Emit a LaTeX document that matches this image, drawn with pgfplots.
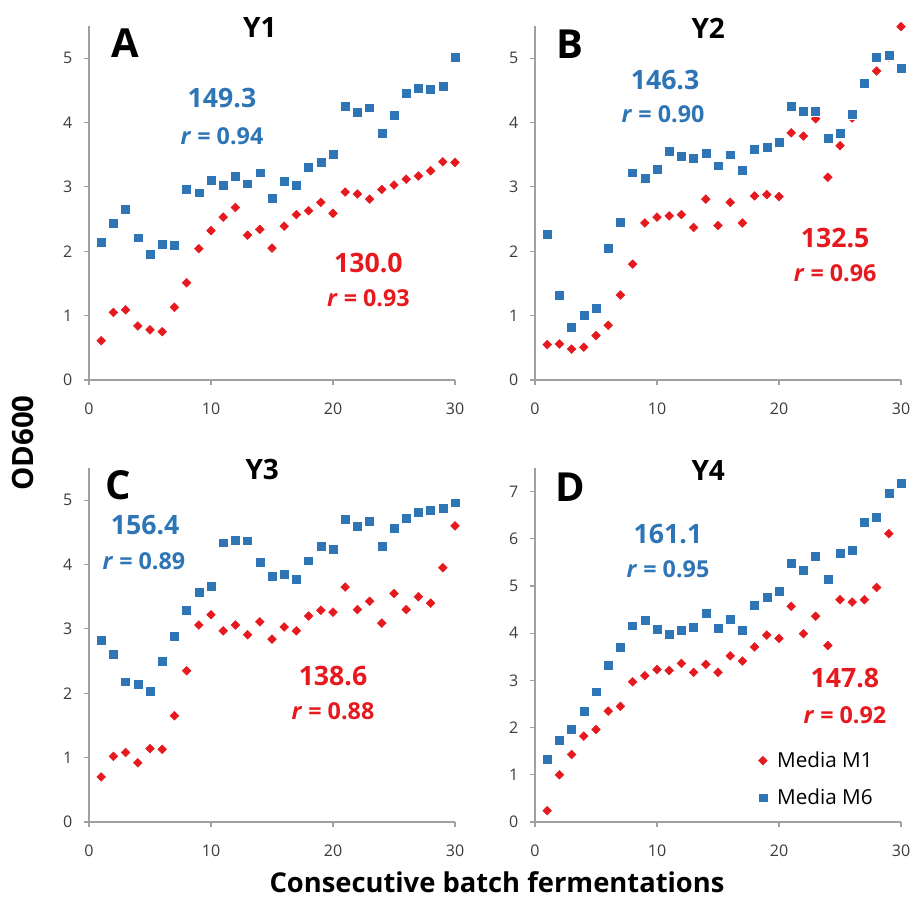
\documentclass[border=0pt]{standalone}
\usepackage{fontspec}
\setmainfont{Open Sans}
\usepackage{pgfplots}
\usepackage{pgfplotstable}
\pgfplotsset{compat=1.18}
\definecolor{myblue}{RGB}{46,117,182}
\definecolor{myred}{RGB}{230,25,30}
\definecolor{axisgray}{RGB}{160,160,160}
\definecolor{tickgray}{RGB}{60,60,60}

\pgfplotstableread{
x a1 a6
1 0.61 2.14
2 1.05 2.43
3 1.09 2.65
4 0.84 2.21
5 0.78 1.95
6 0.75 2.11
7 1.13 2.10
8 1.51 2.96
9 2.04 2.91
10 2.32 3.10
11 2.53 3.03
12 2.68 3.16
13 2.25 3.05
14 2.34 3.22
15 2.05 2.83
16 2.39 3.09
17 2.57 3.02
18 2.63 3.31
19 2.76 3.39
20 2.59 3.51
21 2.92 4.26
22 2.89 4.16
23 2.81 4.23
24 2.96 3.84
25 3.03 4.11
26 3.12 4.45
27 3.17 4.54
28 3.25 4.52
29 3.39 4.56
30 3.38 5.01
}\tabA
\pgfplotstableread{
x b1 b6
1 0.55 2.26
2 0.56 1.32
3 0.48 0.82
4 0.51 1.00
5 0.69 1.11
6 0.85 2.05
7 1.32 2.45
8 1.80 3.22
9 2.44 3.13
10 2.53 3.27
11 2.55 3.55
12 2.57 3.48
13 2.37 3.44
14 2.81 3.53
15 2.40 3.33
16 2.76 3.50
17 2.44 3.26
18 2.86 3.59
19 2.88 3.62
20 2.85 3.69
21 3.84 4.26
22 3.79 4.18
23 4.06 4.18
24 3.15 3.76
25 3.64 3.83
26 4.07 4.13
27 4.60 4.61
28 4.80 5.02
29 5.02 5.04
30 5.49 4.84
}\tabB
\pgfplotstableread{
x c1 c6
1 0.70 2.83
2 1.02 2.61
3 1.08 2.18
4 0.92 2.14
5 1.14 2.03
6 1.13 2.50
7 1.65 2.89
8 2.35 3.29
9 3.06 3.57
10 3.22 3.66
11 2.97 4.34
12 3.06 4.38
13 2.91 4.37
14 3.11 4.04
15 2.84 3.82
16 3.03 3.85
17 2.97 3.77
18 3.20 4.06
19 3.29 4.28
20 3.26 4.24
21 3.65 4.70
22 3.30 4.60
23 3.43 4.68
24 3.09 4.28
25 3.55 4.57
26 3.30 4.72
27 3.50 4.81
28 3.40 4.85
29 3.95 4.87
30 4.60 4.96
}\tabC
\pgfplotstableread{
x d1 d6
1 0.24 1.33
2 1.00 1.74
3 1.43 1.97
4 1.82 2.35
5 1.96 2.76
6 2.35 3.32
7 2.45 3.70
8 2.97 4.16
9 3.10 4.27
10 3.23 4.09
11 3.21 3.97
12 3.36 4.06
13 3.17 4.13
14 3.34 4.43
15 3.17 4.11
16 3.52 4.30
17 3.41 4.07
18 3.71 4.59
19 3.96 4.76
20 3.89 4.89
21 4.57 5.49
22 3.99 5.33
23 4.36 5.64
24 3.74 5.14
25 4.71 5.70
26 4.66 5.75
27 4.71 6.35
28 4.97 6.45
29 6.11 6.96
30 nan 7.17
}\tabD

\pgfplotsset{
  panel/.style={
    width=274.5pt, height=265.5pt, scale only axis,
    anchor=south west,
    axis lines*=left, xmin=0, xmax=30, ymin=0,
    xtick={0,10,20,30},
    tick align=outside,
    axis line style={draw=axisgray, line width=0.8pt},
    tick style={draw=axisgray, line width=0.8pt},
    major tick length=4pt,
    ticklabel style={font=\fontsize{12}{14}\selectfont, text=tickgray},
    xticklabel shift=10pt,
    yticklabel shift=5pt,
    /pgf/number format/assume math mode=true,
    clip=false,
  },
  mone/.style={only marks, mark=square*, mark size=2.3pt,
    mark options={rotate=45, fill=myred, draw=myred}},
  msix/.style={only marks, mark=square*, mark size=3.7pt,
    mark options={fill=myblue, draw=white, line width=0.3pt}},
}
\newcommand{\bignum}{\fontsize{20}{24}\selectfont\bfseries}
\newcommand{\rfont}{\fontsize{17.5}{20}\selectfont\bfseries}
\newcommand{\letterfont}{\fontsize{30}{34}\selectfont\bfseries}
\newcommand{\titlefont}{\fontsize{21}{25}\selectfont\bfseries}

\begin{document}
\begin{tikzpicture}
\path[use as bounding box] (0,0) rectangle (684.75pt,672.75pt);

% Panel A
\begin{axis}[panel, at={(66.75pt,387.75pt)}, ymax=5.5, ytick={0,1,2,3,4,5}]
\addplot[mone] table[x=x,y=a1]{\tabA};
\addplot[msix] table[x=x,y=a6]{\tabA};
\node[font=\letterfont] at (axis cs:3.0,5.23) {A};
\node[font=\titlefont] at (axis cs:14.0,5.47) {Y1};
\node[font=\bignum, text=myblue] at (axis cs:10.9,4.38) {149.3};
\node[font=\rfont, text=myblue] at (axis cs:10.9,3.79) {\textit{r} = 0.94};
\node[font=\bignum, text=myred] at (axis cs:22.9,1.82) {130.0};
\node[font=\rfont, text=myred] at (axis cs:22.9,1.27) {\textit{r} = 0.93};
\end{axis}

% Panel B
\begin{axis}[panel, at={(401.25pt,387.75pt)}, ymax=5.5, ytick={0,1,2,3,4,5}]
\addplot[mone] table[x=x,y=b1]{\tabB};
\addplot[msix] table[x=x,y=b6]{\tabB};
\node[font=\letterfont] at (axis cs:2.87,5.22) {B};
\node[font=\titlefont] at (axis cs:14.2,5.47) {Y2};
\node[font=\bignum, text=myblue] at (axis cs:10.66,4.66) {146.3};
\node[font=\rfont, text=myblue] at (axis cs:10.5,4.13) {\textit{r} = 0.90};
\node[font=\bignum, text=myred] at (axis cs:24.6,2.20) {132.5};
\node[font=\rfont, text=myred] at (axis cs:24.6,1.66) {\textit{r} = 0.96};
\end{axis}

% Panel C
\begin{axis}[panel, at={(66.75pt,56.25pt)}, ymax=5.5, ytick={0,1,2,3,4,5}]
\addplot[mone] table[x=x,y=c1]{\tabC};
\addplot[msix] table[x=x,y=c6]{\tabC};
\node[font=\letterfont] at (axis cs:2.43,5.23) {C};
\node[font=\titlefont] at (axis cs:14.2,5.47) {Y3};
\node[font=\bignum, text=myblue] at (axis cs:4.6,4.62) {156.4};
\node[font=\rfont, text=myblue] at (axis cs:4.5,4.05) {\textit{r} = 0.89};
\node[font=\bignum, text=myred] at (axis cs:20.0,2.27) {138.6};
\node[font=\rfont, text=myred] at (axis cs:20.0,1.72) {\textit{r} = 0.88};
\end{axis}

% Panel D
\begin{axis}[panel, at={(401.25pt,56.25pt)}, ymax=7.5, ytick={0,1,2,3,4,5,6,7},
  legend style={draw=none, fill=none, at={(axis cs:18.25,1.55)}, anchor=north west,
    font=\fontsize{15.5}{18}\selectfont, row sep=10.5pt, inner sep=0pt},
  legend cell align=left,
  legend image code/.code={\draw[#1] plot coordinates {(0.15cm,0cm)};},
]
\addplot[mone] table[x=x,y=d1]{\tabD};
\addlegendentry{\hspace{5pt}Media M1}
\addplot[msix] table[x=x,y=d6]{\tabD};
\addlegendentry{\hspace{5pt}Media M6}
\node[font=\letterfont] at (axis cs:2.93,7.09) {D};
\node[font=\titlefont] at (axis cs:14.2,7.44) {Y4};
\node[font=\bignum, text=myblue] at (axis cs:10.9,6.11) {161.1};
\node[font=\rfont, text=myblue] at (axis cs:10.9,5.36) {\textit{r} = 0.95};
\node[font=\bignum, text=myred] at (axis cs:25.4,3.05) {147.8};
\node[font=\rfont, text=myred] at (axis cs:25.4,2.27) {\textit{r} = 0.92};
\end{axis}

\node[font=\fontsize{22}{26}\selectfont\bfseries, rotate=90] at (17.25pt,340.5pt) {OD600};
\node[font=\fontsize{20.5}{24}\selectfont\bfseries, inner sep=0pt, anchor=base] at (372.75pt,3.5pt) {Consecutive batch fermentations};
\end{tikzpicture}
\end{document}
